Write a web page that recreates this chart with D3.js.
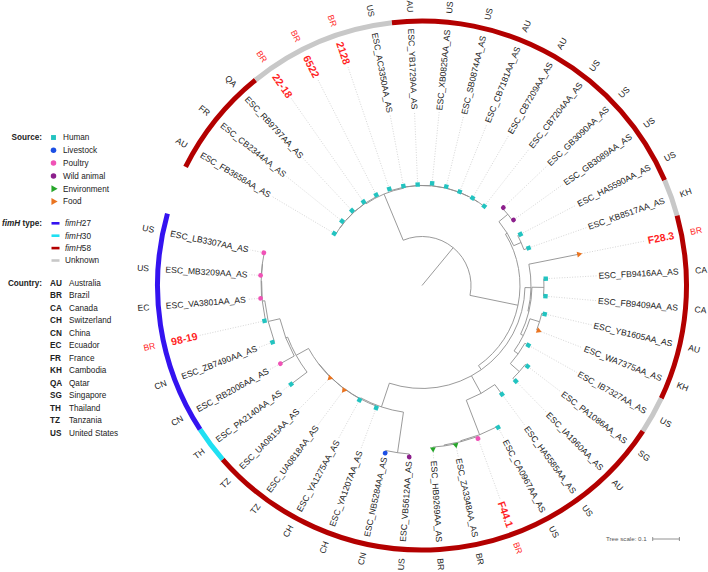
<!DOCTYPE html>
<html><head><meta charset="utf-8">
<script src="https://cdn.jsdelivr.net/npm/d3@7"></script>
<style>body{margin:0;background:#fff}svg{display:block;font-family:"Liberation Sans",Arial,sans-serif}</style>
</head><body><svg id="c" width="708" height="572"></svg>
<script>
// ---------------- DATA ----------------
const leafNames = ["ESC_FB3658AA_AS","ESC_CB2344AA_AS","ESC_RB9797AA_AS","22-18","6522","2128","ESC_AC3350AA_AS","ESC_YB1729AA_AS","ESC_XB0825AA_AS","ESC_SB0874AA_AS","ESC_CB7181AA_AS","ESC_CB7209AA_AS","ESC_CB7204AA_AS","ESC_GB3090AA_AS","ESC_GB3089AA_AS","ESC_HA5590AA_AS","ESC_KB8517AA_AS","F28.3","ESC_FB9416AA_AS","ESC_FB9409AA_AS","ESC_YB1605AA_AS","ESC_WA7375AA_AS","ESC_IB7327AA_AS","ESC_PA1086AA_AS","ESC_IA1960AA_AS","ESC_HA5585AA_AS","ESC_CA0967AA_AS","F44.1","ESC_ZA3348AA_AS","ESC_HB9269AA_AS","ESC_VB5612AA_AS","ESC_NB5284AA_AS","ESC_YA1207AA_AS","ESC_YA1275AA_AS","ESC_UA0818AA_AS","ESC_UA0815AA_AS","ESC_PA2140AA_AS","ESC_RB2006AA_AS","ESC_ZB7490AA_AS","98-19","ESC_VA3801AA_AS","ESC_MB3209AA_AS","ESC_LB3307AA_AS"];
const leafCountries = ["AU","FR","QA","BR","BR","BR","US","AU","US","US","AU","AU","US","US","US","US","KH","BR","CA","CA","AU","KH","US","SG","AU","US","US","BR","BR","BR","US","CN","CH","CH","TZ","TZ","TH","CN","CN","BR","EC","US","US"];
const leafSources = ["Human","Human","Human","Human","Human","Human","Human","Human","Human","Human","Human","Human","Human","Wild animal","Wild animal","Human","Human","Food","Human","Human","Human","Food","Human","Human","Human","Human","Human","Poultry","Environment","Environment","Wild animal","Livestock","Human","Human","Food","Food","Human","Poultry","Human","Human","Poultry","Poultry","Poultry"];
const leafFimH = ["fimH58","fimH58","fimH58","Unknown","Unknown","Unknown","Unknown","fimH58","fimH58","fimH58","fimH58","fimH58","fimH58","fimH58","fimH58","fimH58","Unknown","fimH58","fimH58","fimH58","fimH58","fimH58","Unknown","fimH58","fimH58","fimH58","fimH58","fimH58","fimH58","fimH58","fimH58","fimH58","fimH58","fimH58","fimH58","fimH58","fimH30","fimH27","fimH27","fimH27","fimH27","fimH27","fimH27"];
const highlightedSamples = ["22-18","6522","2128","F28.3","F44.1","98-19"];
// tree topology with branch lengths (substitutions/site)
const treeNewick = "(((((((ESC_FB3658AA_AS:0.0064,ESC_CB2344AA_AS:0.0086):0.0004,ESC_RB9797AA_AS:0.0086):0.0004,22-18:0.0071):0.0004,6522:0.0056):0.0037,(2128:0.0075,(ESC_AC3350AA_AS:0.0045,(ESC_YB1729AA_AS:0.0030,(ESC_XB0825AA_AS:0.0090,(ESC_SB0874AA_AS:0.0056,(ESC_CB7181AA_AS:0.0019,(ESC_CB7209AA_AS:0.0015,ESC_CB7204AA_AS:0.0007):0.0004):0.0004):0.0004):0.0004):0.0004):0.0004):0.0037):0.1873,"
 + "(((ESC_GB3090AA_AS:0.0041,ESC_GB3089AA_AS:0.0041):0.0431,(ESC_HA5590AA_AS:0.0112,ESC_KB8517AA_AS:0.0187):0.0300):0.0075,"
 + "((F28.3:0.1910,((ESC_FB9416AA_AS:0.0075,ESC_FB9409AA_AS:0.0075):0.0449,((ESC_YB1605AA_AS:0.0112,ESC_WA7375AA_AS:0.0075):0.0375,(ESC_IB7327AA_AS:0.0150,(ESC_PA1086AA_AS:0.0112,ESC_IA1960AA_AS:0.0150):0.0449):0.0187):0.0112):0.0037):0.0225,"
 + "(ESC_HA5585AA_AS:0.0449,(ESC_CA0967AA_AS:0.0037,(F44.1:0.0075,(ESC_ZA3348AA_AS:0.0037,ESC_HB9269AA_AS:0.0075):0.0037):0.0037):0.1386):0.0749,"
 + "((ESC_VB5612AA_AS:0.0112,ESC_NB5284AA_AS:0.0097):0.1536,(ESC_YA1207AA_AS:0.0064,(ESC_YA1275AA_AS:0.0045,(ESC_UA0818AA_AS:0.0034,(ESC_UA0815AA_AS:0.0026,(ESC_PA2140AA_AS:0.0749,(ESC_RB2006AA_AS:0.0592,(ESC_ZB7490AA_AS:0.0075,(98-19:0.0037,(ESC_VA3801AA_AS:0.0037,(ESC_MB3209AA_AS:0.0022,ESC_LB3307AA_AS:0.0015):0.0007):0.0019):0.0094):0.0449):0.0075):0.0532):0.0007):0.0011):0.0011):0.0037):0.0936):0.0187):0.1835):0.1835;";
const sourceTypes = ["Human","Livestock","Poultry","Wild animal","Environment","Food"];
const sourceColors = ["#22c3c0","#1c4fe4","#f052b6","#8c1f8c","#26a62a","#ea7420"];
const fimHTypes = ["fimH27","fimH30","fimH58","Unknown"];
const fimHColors = ["#3413f0","#1fe0f2","#b30000","#c8c8c8"];
const countryCodes = ["AU","BR","CA","CH","CN","EC","FR","KH","QA","SG","TH","TZ","US"];
const countryNames = ["Australia","Brazil","Canada","Switzerland","China","Ecuador","France","Cambodia","Qatar","Singapore","Thailand","Tanzania","United States"];
const treeScaleValue = 0.1;

// ---------------- LAYOUT ----------------
const cx = 422, cy = 285.5;
const svg = d3.select("#c");
const rad = a => a * Math.PI / 180;
const P = (r, a) => [r * Math.cos(rad(a)), r * Math.sin(rad(a))];

function parseNewick(str) {
  let i = 0;
  function node() {
    const n = {};
    if (str[i] === "(") {
      i++; n.children = [];
      while (true) { n.children.push(node()); if (str[i] === ",") { i++; continue; } break; }
      i++;
    }
    let name = ""; while (i < str.length && !":,();".includes(str[i])) name += str[i++];
    n.name = name.trim();
    n.length = 0;
    if (str[i] === ":") { i++; let num = ""; while (i < str.length && !",();".includes(str[i])) num += str[i++]; n.length = +num; }
    return n;
  }
  return node();
}

const root = d3.hierarchy(parseNewick(treeNewick));
const angle = d3.scaleLinear().domain([0, leafNames.length - 1]).range([-149.3, 191.7]);
const step = angle(1) - angle(0);
const rS = d3.scaleLinear().domain([0, 1]).range([0, 267]);
root.eachBefore(d => d.dist = (d.parent ? d.parent.dist : 0) + d.data.length);
root.leaves().forEach(d => { d.idx = leafNames.indexOf(d.data.name); d.angle = angle(d.idx); });
root.eachAfter(d => { if (d.children) d.angle = (d.children[0].angle + d.children[d.children.length - 1].angle) / 2; });

const g = svg.append("g").attr("transform", `translate(${cx},${cy})`);
const gLead = g.append("g"), gTree = g.append("g"), gMark = g.append("g"), gLab = g.append("g");

// leaf labels
const labelR = 257;
root.leaves().forEach(d => {
  const name = d.data.name, hl = highlightedSamples.includes(name);
  const right = d.angle > -90 && d.angle < 90;
  const t = gLab.append("text")
    .attr("transform", `rotate(${d.angle}) translate(${labelR},0)` + (right ? "" : " rotate(180)"))
    .attr("text-anchor", right ? "end" : "start").attr("dy", "0.35em")
    .attr("font-size", hl ? 10.5 : 8.6).attr("font-weight", hl ? "bold" : "normal")
    .attr("fill", hl ? "#ff1f1f" : "#222").text(name);
  const w = t.node().getComputedTextLength();
  const r0 = rS(d.dist) + 3, r1 = labelR - w - 2;
  if (r1 > r0) {
    const a = P(r0, d.angle), b = P(r1, d.angle);
    gLead.append("line").attr("x1", a[0]).attr("y1", a[1]).attr("x2", b[0]).attr("y2", b[1])
      .attr("stroke", "#c4c4c4").attr("stroke-width", 0.7).attr("stroke-dasharray", "1,1.6");
  }
});

// branches
root.descendants().forEach(d => {
  const r0 = d.parent ? rS(d.parent.dist) : 0, r1 = rS(d.dist);
  const a = P(r0, d.angle), b = P(r1, d.angle);
  gTree.append("line").attr("x1", a[0]).attr("y1", a[1]).attr("x2", b[0]).attr("y2", b[1])
    .attr("stroke", "#8e8e8e").attr("stroke-width", 0.9);
  if (d.children) {
    const a0 = d.children[0].angle, a1 = d.children[d.children.length - 1].angle;
    const s = P(r1, a0), e = P(r1, a1);
    gTree.append("path").attr("d", `M${s[0]},${s[1]}A${r1},${r1} 0 ${a1 - a0 > 180 ? 1 : 0} 1 ${e[0]},${e[1]}`)
      .attr("fill", "none").attr("stroke", "#8e8e8e").attr("stroke-width", 0.9);
  }
});

// leaf markers
const symType = {"Human": d3.symbolSquare, "Livestock": d3.symbolCircle, "Poultry": d3.symbolCircle, "Wild animal": d3.symbolCircle, "Environment": d3.symbolTriangle, "Food": d3.symbolTriangle};
const symSize = {"Human": 19, "Livestock": 18, "Poultry": 18, "Wild animal": 18, "Environment": 15, "Food": 15};
root.leaves().forEach(d => {
  const src = leafSources[d.idx], k = sourceTypes.indexOf(src);
  const p = P(rS(d.dist), d.angle);
  const rot = symType[src] === d3.symbolTriangle ? d.angle + 90 : d.angle;
  gMark.append("path").attr("d", d3.symbol(symType[src], symSize[src])())
    .attr("transform", `translate(${p[0]},${p[1]}) rotate(${rot})`).attr("fill", sourceColors[k]);
});

// fimH ring
const ringR = 264.5;
let runs = [];
leafNames.forEach((n, i) => {
  const f = leafFimH[i];
  if (runs.length && runs[runs.length - 1].f === f) runs[runs.length - 1].e = i; else runs.push({f, s: i, e: i});
});
runs.forEach(r => {
  const a0 = angle(r.s) - step / 2, a1 = angle(r.e) + step / 2;
  const s = P(ringR, a0), e = P(ringR, a1);
  g.append("path").attr("d", `M${s[0]},${s[1]}A${ringR},${ringR} 0 ${a1 - a0 > 180 ? 1 : 0} 1 ${e[0]},${e[1]}`)
    .attr("fill", "none").attr("stroke", fimHColors[fimHTypes.indexOf(r.f)]).attr("stroke-width", 5);
});

// country labels
const cR = 273.5;
leafNames.forEach((n, i) => {
  const a = angle(i), right = a > -90 && a < 90, hl = highlightedSamples.includes(n);
  g.append("text").attr("transform", `rotate(${a}) translate(${cR},0)` + (right ? "" : " rotate(180)"))
    .attr("text-anchor", right ? "start" : "end").attr("dy", "0.35em").attr("font-size", 8.6)
    .attr("fill", hl ? "#ff1f1f" : "#222").text(leafCountries[i]);
});

// ---------------- LEGEND ----------------
const lg = svg.append("g").attr("font-size", 8.2).attr("fill", "#222");
lg.append("text").attr("x", 42).attr("y", 137.5).attr("dy", "0.35em").attr("text-anchor", "end").attr("font-weight", "bold").text("Source:");
sourceTypes.forEach((s, i) => {
  const y = 137.5 + i * 12.8;
  const tri = symType[s] === d3.symbolTriangle;
  lg.append("path").attr("d", d3.symbol(symType[s], tri ? 22 : 24)())
    .attr("transform", `translate(53.5,${y}) rotate(${tri ? 90 : 0})`).attr("fill", sourceColors[i]);
  lg.append("text").attr("x", 63).attr("y", y).attr("dy", "0.35em").text(s);
});
const fh = lg.append("text").attr("x", 42).attr("y", 223.3).attr("dy", "0.35em").attr("text-anchor", "end").attr("font-weight", "bold");
fh.append("tspan").attr("font-style", "italic").text("fimH");
fh.append("tspan").text(" type:");
fimHTypes.forEach((f, i) => {
  const y = 223.3 + i * 12.4;
  lg.append("line").attr("x1", 51.5).attr("x2", 59.5).attr("y1", y).attr("y2", y).attr("stroke", fimHColors[i]).attr("stroke-width", 2.6);
  const t = lg.append("text").attr("x", 65).attr("y", y).attr("dy", "0.35em");
  if (f.startsWith("fimH")) { t.append("tspan").attr("font-style", "italic").text("fimH"); t.append("tspan").text(f.slice(4)); }
  else t.text(f);
});
lg.append("text").attr("x", 42).attr("y", 282.7).attr("dy", "0.35em").attr("text-anchor", "end").attr("font-weight", "bold").text("Country:");
countryCodes.forEach((c, i) => {
  const y = 282.7 + i * 12.5;
  lg.append("text").attr("x", 50).attr("y", y).attr("dy", "0.35em").attr("font-weight", "bold").text(c);
  lg.append("text").attr("x", 69).attr("y", y).attr("dy", "0.35em").text(countryNames[i]);
});

// tree scale
const tsY = 539, tsX = 652.7;
svg.append("text").attr("x", tsX - 6).attr("y", tsY).attr("dy", "0.35em").attr("text-anchor", "end")
  .attr("font-size", 6.2).attr("fill", "#555").text("Tree scale: " + treeScaleValue);
const tsW = rS(treeScaleValue);
const ts = svg.append("g").attr("stroke", "#777").attr("stroke-width", 0.8);
ts.append("line").attr("x1", tsX).attr("x2", tsX + tsW).attr("y1", tsY).attr("y2", tsY);
ts.append("line").attr("x1", tsX).attr("x2", tsX).attr("y1", tsY - 2).attr("y2", tsY + 2);
ts.append("line").attr("x1", tsX + tsW).attr("x2", tsX + tsW).attr("y1", tsY - 2).attr("y2", tsY + 2);
</script></body></html>
